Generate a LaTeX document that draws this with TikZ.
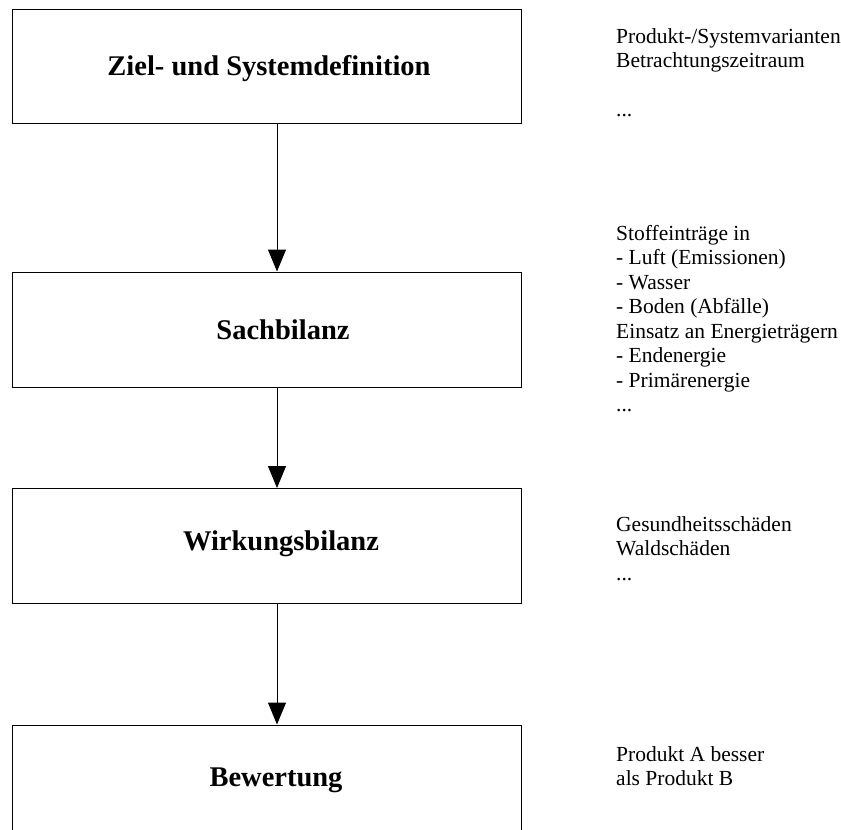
\documentclass[tikz,border=0pt]{standalone}
\usepackage{fontspec}
\setmainfont{Liberation Serif}
\usetikzlibrary{arrows.meta}

\tikzset{
	kasten/.style={draw, line width=1pt, minimum width=509pt, minimum height=115pt, inner sep=0pt},
	titel/.style={font=\fontsize{28.5}{34}\selectfont\bfseries},
	notiz/.style={anchor=north west, align=left, inner sep=0pt, font=\fontsize{21.5}{24.5}\selectfont},
	pfeil/.style={-{Triangle[width=18pt,length=22pt]}, line width=1pt}
}

\begin{document}
\begin{tikzpicture}[x=1pt, y=-1pt]
			\clip (0,0) rectangle (841,830);
			\coordinate (achse) at (277,0);
			\node[kasten, minimum height=114pt] (zielbox) at (266.5,66) {};
			\node[kasten] (sachbox) at (266.5,329.5) {};
			\node[kasten] (wirkbox) at (266.5,546) {};
			\node[kasten] (bewbox) at (266.5,782.5) {};
			\node[titel] (ziel) at (269,69) {Ziel- und Systemdefinition};
			\node[titel] (sach) at (283,330) {Sachbilanz};
			\node[titel] (wirk) at (281,544) {Wirkungsbilanz};
			\node[titel] (bew) at (276,780) {Bewertung};
			\draw[pfeil] (zielbox.south -| achse) -- (sachbox.north -| achse);
			\draw[pfeil] (sachbox.south -| achse) -- (wirkbox.north -| achse);
			\draw[pfeil] (wirkbox.south -| achse) -- (bewbox.north -| achse);
			\node[notiz] (varianten) at (616,28) {Produkt-/Systemvarianten\\Betrachtungszeitraum\\[24.5pt]...};
			\node[notiz] (stoffe) at (616,225) {Stoffeinträge in\\- Luft (Emissionen)\\- Wasser\\- Boden (Abfälle)\\Einsatz an Energieträgern\\- Endenergie\\- Primärenergie\\...};
			\node[notiz] (schaeden) at (616,516) {Gesundheitsschäden\\Waldschäden\\...};
			\node[notiz] (vergleich) at (616,746) {Produkt A besser\\als Produkt B};
		\end{tikzpicture}
\end{document}
